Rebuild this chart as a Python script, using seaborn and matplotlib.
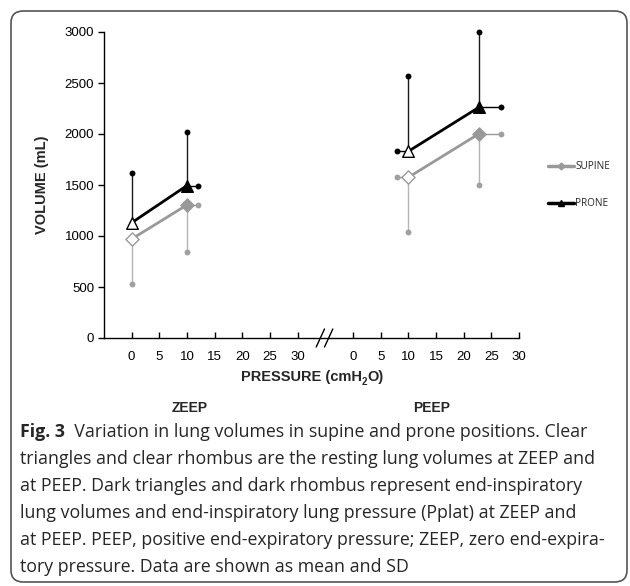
import numpy as np
import pandas as pd
import matplotlib
matplotlib.use("Agg")
import matplotlib.pyplot as plt
import seaborn as sns
from matplotlib.lines import Line2D
from matplotlib.patches import FancyBboxPatch
import matplotlib.transforms as mtransforms

# ---------------- data ----------------
conditions = ["ZEEP", "ZEEP", "PEEP", "PEEP"]
phases = ["rest", "end-insp", "rest", "end-insp"]
supine_pressure = [0, 10, 10, 22.7]
supine_volume = [970, 1305, 1575, 2000]
supine_vol_sd = [-440, -465, -535, -500]      # one-sided (downwards)
supine_pres_sd = [0, 2, -2, 4]                # one-sided horizontal
prone_pressure = [0, 10, 10, 22.7]
prone_volume = [1130, 1495, 1830, 2260]
prone_vol_sd = [485, 520, 740, 740]           # one-sided (upwards)
prone_pres_sd = [0, 2, -2, 4]

segment_offset = {"ZEEP": 0, "PEEP": 40}
tick_values = [0, 5, 10, 15, 20, 25, 30]
y_ticks = [0, 500, 1000, 1500, 2000, 2500, 3000]
series_names = ["SUPINE", "PRONE"]

caption_bold = "Fig. 3"
caption_lines = [
    "  Variation in lung volumes in supine and prone positions. Clear",
    "triangles and clear rhombus are the resting lung volumes at ZEEP and",
    "at PEEP. Dark triangles and dark rhombus represent end-inspiratory",
    "lung volumes and end-inspiratory lung pressure (Pplat) at ZEEP and",
    "at PEEP. PEEP, positive end-expiratory pressure; ZEEP, zero end-expira-",
    "tory pressure. Data are shown as mean and SD",
]

# ---------------- build table ----------------
rows = []
for name, pres, vol, vsd, psd in [
    ("SUPINE", supine_pressure, supine_volume, supine_vol_sd, supine_pres_sd),
    ("PRONE", prone_pressure, prone_volume, prone_vol_sd, prone_pres_sd),
]:
    for c, ph, p, v, vs, ps in zip(conditions, phases, pres, vol, vsd, psd):
        rows.append(dict(position=name, condition=c, phase=ph,
                         x=p + segment_offset[c], volume=v, vsd=vs, psd=ps))
df = pd.DataFrame(rows)

# ---------------- figure ----------------
sns.set_theme(style="white")
plt.rcParams["font.family"] = ["Liberation Sans", "DejaVu Sans"]

fig = plt.figure(figsize=(6.3, 5.86), dpi=100)
W, H = 630, 586
ax = fig.add_axes([104 / W, 1 - 338 / H, (519 - 104) / W, (338 - 32) / H])

colors = {"SUPINE": "#999999", "PRONE": "#000000"}
err_colors = {"SUPINE": "#b4b4b4", "PRONE": "#1a1a1a"}
dot_colors = {"SUPINE": "#a0a0a0", "PRONE": "#000000"}
markers = {"SUPINE": "D", "PRONE": "^"}

# error bars (one-sided), with dot ends
for _, r in df.iterrows():
    ec = err_colors[r.position]
    if r.vsd != 0:
        ax.plot([r.x, r.x], [r.volume, r.volume + r.vsd], color=ec, lw=1.0, zorder=2,
                clip_on=False)
        ax.scatter([r.x], [r.volume + r.vsd], s=18, color=dot_colors[r.position],
                   zorder=3, linewidths=0, clip_on=False)
    if r.psd != 0:
        ax.plot([r.x, r.x + r.psd], [r.volume, r.volume], color=colors[r.position], lw=1.0,
                zorder=2, clip_on=False)
        ax.scatter([r.x + r.psd], [r.volume], s=18, color=dot_colors[r.position],
                   zorder=3, linewidths=0, clip_on=False)

# main lines
sns.lineplot(data=df, x="x", y="volume", hue="position", units="condition",
             estimator=None, palette=colors, lw=2.0, legend=False, ax=ax,
             sort=False, zorder=4)

# markers: open at rest, filled at end-inspiration
for name in series_names:
    sub = df[df.position == name]
    for _, r in sub.iterrows():
        face = "white" if r.phase == "rest" else colors[name]
        size = 45 if name == "SUPINE" else 70
        ax.scatter([r.x], [r.volume], marker=markers[name], s=size,
                   facecolor=face, edgecolor=colors[name], linewidths=1.0, zorder=5,
                   clip_on=False)

# axes formatting
ax.set_xlim(-5, 70)
ax.set_ylim(0, 3000)
xt = [v + segment_offset["ZEEP"] for v in tick_values] + [v + segment_offset["PEEP"] for v in tick_values]
ax.set_xticks(xt)
ax.set_xticklabels([str(v) for v in tick_values] * 2, fontsize=9.5)
ax.set_yticks(y_ticks)
ax.set_yticklabels([str(v) for v in y_ticks], fontsize=9.5)
ax.tick_params(axis="x", direction="in", length=4, width=1, colors="black", pad=9, bottom=True)
ax.tick_params(axis="y", direction="out", length=4, width=1, colors="black", pad=3, left=True)
for s in ["top", "right"]:
    ax.spines[s].set_visible(False)
for s in ["left", "bottom"]:
    ax.spines[s].set_color("black")
    ax.spines[s].set_linewidth(1.0)
ax.set_xlabel("")
ax.set_ylabel("")

# axis break slashes
trans = mtransforms.blended_transform_factory(ax.transData, ax.transAxes)
dy = 9 / 306
for xc in [34.1, 35.6]:
    ax.plot([xc - 0.75, xc + 0.75], [-dy, dy], color="black", lw=1.0,
            transform=trans, clip_on=False, zorder=6)

# labels
fig.text(42 / W, 1 - 185 / H, "VOLUME (mL)", rotation=90, ha="center", va="center",
         fontsize=10.5, fontweight="bold")
t1 = fig.text(241 / W, 1 - 377 / H, "PRESSURE (cmH", ha="left", va="center",
              fontsize=10.5, fontweight="bold")
ax.annotate("2", xy=(1, 0), xycoords=t1, xytext=(0, -2), textcoords="offset points",
            fontsize=7, fontweight="bold", ha="left", va="bottom")
ax.annotate("O)", xy=(1, 0), xycoords=t1, xytext=(4.2, 0), textcoords="offset points",
            fontsize=10.5, fontweight="bold", ha="left", va="bottom")
fig.text(190 / W, 1 - 408 / H, "ZEEP", ha="center", va="center", fontsize=10, fontweight="bold")
fig.text(432 / W, 1 - 408 / H, "PEEP", ha="center", va="center", fontsize=10, fontweight="bold")

# legend
handles = [Line2D([], [], color=colors["SUPINE"], lw=2.5, marker="D", markersize=3.5),
           Line2D([], [], color=colors["PRONE"], lw=2.5, marker="^", markersize=5)]
fig.legend(handles, series_names, loc="upper left", bbox_to_anchor=(548 / W, 1 - 161 / H),
           frameon=False, borderpad=0, borderaxespad=0, handlelength=2.6,
           handletextpad=0.15, labelspacing=2.6,
           prop={"family": "Open Sans", "size": 7.2})

# caption
cap_font = "Open Sans"
cap_size = 12.8
y0 = 1 - 432 / H
step = 27 / H
tb = fig.text(20 / W, y0, caption_bold, ha="left", va="center", fontsize=cap_size,
              fontweight="bold", family=cap_font)
ax.annotate(caption_lines[0], xy=(1, 0.5), xycoords=tb, ha="left", va="center",
            fontsize=cap_size, family=cap_font)
for i, line in enumerate(caption_lines[1:], start=1):
    fig.text(20 / W, y0 - i * step, line, ha="left", va="center", fontsize=cap_size,
             family=cap_font)

# rounded frame
frame = FancyBboxPatch((11 / W, 4 / H), (627 - 11) / W, (575 - 4) / H,
                       boxstyle="round,pad=0,rounding_size=0.02",
                       transform=fig.transFigure, fill=False, edgecolor="#555555",
                       linewidth=1.2, clip_on=False)
fig.patches.append(frame)

fig.savefig("out.png", dpi=100)
